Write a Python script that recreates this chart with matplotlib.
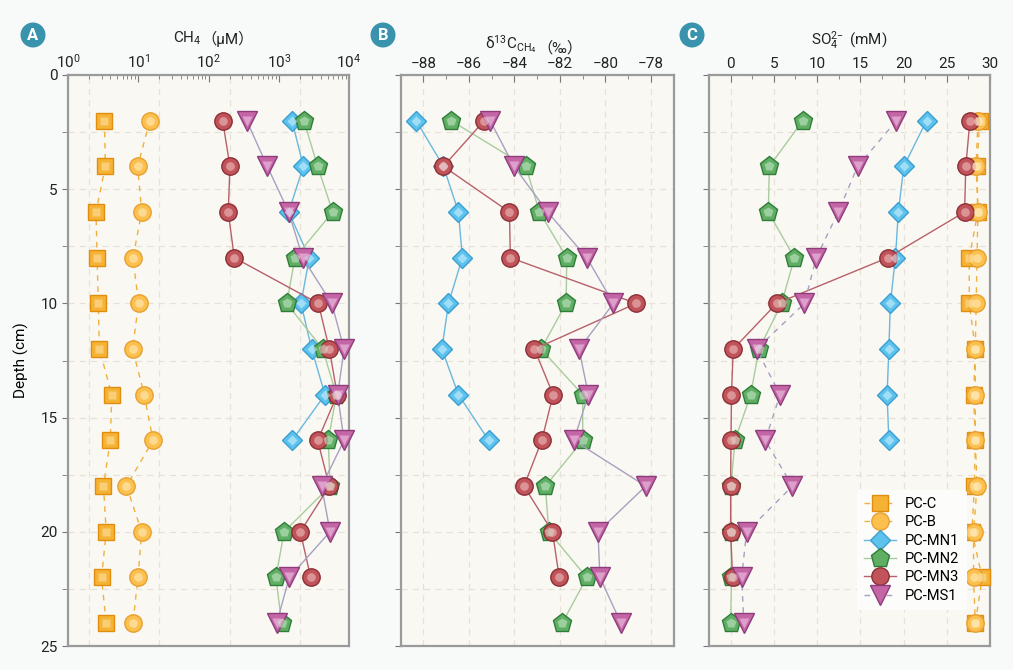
import numpy as np
import matplotlib
matplotlib.use("Agg")
import matplotlib.pyplot as plt
from matplotlib.ticker import FixedLocator, NullFormatter

plt.rcParams['font.family'] = ['Roboto', 'Noto Sans CJK SC', 'DejaVu Sans']
plt.rcParams['mathtext.fontset'] = 'custom'
plt.rcParams['mathtext.rm'] = 'Roboto'
plt.rcParams['mathtext.it'] = 'Roboto'

# depths (cm)
depth = [2, 4, 6, 8, 10, 12, 14, 16, 18, 20, 22, 24]
depth_mn1 = depth[:8]
depth_mn3 = depth[:11]

# A: CH4 (uM)
ch4_c = [3.3, 3.4, 2.5, 2.6, 2.7, 2.8, 4.2, 4.0, 3.2, 3.5, 3.0, 3.5]
ch4_b = [14.6, 9.8, 11.2, 8.4, 10.1, 8.3, 12.2, 16.2, 6.8, 11.2, 9.9, 8.4]
ch4_mn1 = [1545, 2240, 1385, 2720, 2075, 2940, 4550, 1545]
ch4_mn2 = [2280, 3580, 5860, 1700, 1300, 4220, 6600, 5070, 5370, 1190, 912, 1100]
ch4_mn3 = [159, 202, 191, 233, 3660, 5250, 6800, 3580, 5250, 2030, 2850]
ch4_ms1 = [350, 687, 1385, 2190, 5680, 8500, 6900, 8500, 4080, 5370, 1410, 935]

# B: d13C-CH4 (permil)
d13_mn1 = [-88.32, -87.12, -86.46, -86.29, -86.90, -87.19, -86.46, -85.13]
d13_mn2 = [-86.78, -83.5, -82.9, -81.7, -81.73, -82.83, -81.0, -81.0, -82.64, -82.49, -80.82, -81.9]
d13_mn3 = [-85.33, -87.12, -84.22, -84.18, -78.65, -83.12, -82.30, -82.8, -83.58, -82.33, -82.03]
d13_ms1 = [-85.07, -84.02, -82.54, -80.82, -79.65, -81.16, -80.75, -81.39, -78.23, -80.33, -80.24, -79.32]

# C: SO4 (mM)
so4_c = [28.8, 28.5, 28.6, 27.6, 27.6, 28.3, 28.1, 28.3, 28.2, 27.9, 29.1, 28.3]
so4_b = [28.6, 28.4, 28.6, 28.5, 28.4, 28.3, 28.3, 28.3, 28.5, 28.1, 28.1, 28.3]
so4_mn1 = [22.66, 20.03, 19.4, 19.06, 18.48, 18.3, 18.1, 18.3]
so4_mn2 = [8.35, 4.48, 4.36, 7.38, 5.9, 3.28, 2.32, 0.5, 0.04, 0.04, 0.1, 0.0]
so4_mn3 = [27.68, 27.2, 27.06, 18.17, 5.33, 0.3, 0.1, 0.04, 0.0, 0.0, 0.23]
so4_ms1 = [19.18, 14.69, 12.45, 9.9, 8.54, 3.0, 5.72, 4.0, 7.15, 1.85, 1.27, 1.54]

# style per series: marker, size, face, edge, highlight, line color
styles = {
    'PC-C':   dict(marker='s', ms=11, fc='#f6b233', ec='#e08e10', hl='#fde6b0', lc='#f0b040'),
    'PC-B':   dict(marker='o', ms=12.5, fc='#fbc04d', ec='#e8a030', hl='#fff0c8', lc='#f0b040'),
    'PC-MN1': dict(marker='D', ms=10.5, fc='#5ec3ec', ec='#3a9fd2', hl='#d8f3ff', lc='#6ab8de'),
    'PC-MN2': dict(marker='p', ms=14, fc='#5fae63', ec='#2f7d3a', hl='#cdebcd', lc='#a8cc9c'),
    'PC-MN3': dict(marker='o', ms=12.5, fc='#c0545a', ec='#8c2f36', hl='#f2c8c8', lc='#b8606a'),
    'PC-MS1': dict(marker='v', ms=14, fc='#c466a6', ec='#8e3c7c', hl='#f3d0ea', lc='#a8a0c0'),
}

fig_bg = '#f8f9f9'
ax_bg = '#faf8f3'
grid_c = '#e6e2da'

fig = plt.figure(figsize=(10.13, 6.70), dpi=100, facecolor=fig_bg)
W, H = 1013, 670
ax_a = fig.add_axes([68 / W, 24 / H, 281 / W, 571 / H])
ax_b = fig.add_axes([400.7 / W, 24 / H, 273 / W, 571 / H])
ax_c = fig.add_axes([709 / W, 24 / H, 281 / W, 571 / H])


def draw(ax, x, y, name, ls='-', lw=1.0):
    s = styles[name]
    ax.plot(x, y, ls=ls, lw=lw, color=s['lc'], marker=s['marker'], ms=s['ms'],
            mfc=s['fc'], mec=s['ec'], mew=1.0, zorder=3, clip_on=False, label=name)
    # soft highlight to mimic the glossy markers
    ax.plot(x, y, ls='none', marker=s['marker'], ms=s['ms'] * 0.5,
            mfc=s['hl'], mec='none', alpha=0.55, zorder=4, clip_on=False)


def style_axis(ax):
    ax.set_facecolor(ax_bg)
    ax.set_ylim(25, 0)
    ax.xaxis.tick_top()
    ax.xaxis.set_label_position('top')
    ax.yaxis.set_major_locator(FixedLocator([0, 5, 10, 15, 20, 25]))
    ax.yaxis.set_minor_locator(FixedLocator([2.5, 7.5, 12.5, 17.5, 22.5]))
    ax.tick_params(axis='x', which='both', direction='in', colors='#777777',
                   labelcolor='#222222', labelsize=11, pad=3)
    ax.tick_params(axis='x', which='major', length=5)
    ax.tick_params(axis='x', which='minor', length=3)
    ax.tick_params(axis='y', which='both', direction='out', colors='#777777',
                   labelcolor='#222222', labelsize=11, length=4)
    for sp in ax.spines.values():
        sp.set_color('#9a9a9a')
        sp.set_linewidth(1.6)
    ax.grid(True, axis='y', which='both', ls=(0, (5, 4)), color=grid_c, lw=0.9)
    ax.set_axisbelow(True)


def title(ax, math_part, plain_part, x, y):
    # mathtext part, then the CJK-punctuation part as plain text right after it
    t1 = ax.text(x, y, math_part, transform=ax.transAxes, ha='right', va='baseline',
                 fontsize=11, color='#222222')
    ax.annotate(plain_part, xy=(1, 0), xycoords=t1, xytext=(0, 0),
                textcoords='offset points', ha='left', va='bottom',
                fontsize=11, color='#222222')


# panel A
style_axis(ax_a)
ax_a.set_xscale('log')
ax_a.set_xlim(1, 1e4)
for gx in [2, 20, 200, 2000]:
    ax_a.axvline(gx, ls=(0, (5, 4)), color=grid_c, lw=0.9, zorder=0)
draw(ax_a, ch4_c, depth, 'PC-C', ls=(0, (4, 4)))
draw(ax_a, ch4_b, depth, 'PC-B', ls=(0, (4, 4)))
draw(ax_a, ch4_mn1, depth_mn1, 'PC-MN1')
draw(ax_a, ch4_mn2, depth, 'PC-MN2')
draw(ax_a, ch4_mn3, depth_mn3, 'PC-MN3')
draw(ax_a, ch4_ms1, depth, 'PC-MS1')
title(ax_a, 'CH$_4$', '（μM）', 0.475, 1 + 32 / 571)
ax_a.set_ylabel('Depth (cm)', fontsize=11, labelpad=8)

# panel B
style_axis(ax_b)
ax_b.set_xlim(-89, -77)
ax_b.xaxis.set_major_locator(FixedLocator([-88, -86, -84, -82, -80, -78]))
ax_b.xaxis.set_minor_locator(FixedLocator([-87, -85, -83, -81, -79]))
ax_b.grid(True, axis='x', which='major', ls=(0, (5, 4)), color=grid_c, lw=0.9)
ax_b.yaxis.set_major_formatter(NullFormatter())
draw(ax_b, d13_mn1, depth_mn1, 'PC-MN1')
draw(ax_b, d13_mn2, depth, 'PC-MN2')
draw(ax_b, d13_mn3, depth_mn3, 'PC-MN3')
draw(ax_b, d13_ms1, depth, 'PC-MS1')
title(ax_b, 'δ$^{13}$C$_{CH_4}$', '（‰）', 0.5, 1 + 26 / 571)

# panel C
style_axis(ax_c)
ax_c.set_xlim(-2.5, 30)
ax_c.xaxis.set_major_locator(FixedLocator([0, 5, 10, 15, 20, 25, 30]))
ax_c.xaxis.set_minor_locator(FixedLocator([2.5, 7.5, 12.5, 17.5, 22.5, 27.5]))
ax_c.grid(True, axis='x', which='major', ls=(0, (5, 4)), color=grid_c, lw=0.9)
ax_c.yaxis.set_major_formatter(NullFormatter())
draw(ax_c, so4_c, depth, 'PC-C', ls=(0, (4, 4)))
draw(ax_c, so4_b, depth, 'PC-B', ls=(0, (4, 4)))
draw(ax_c, so4_mn1, depth_mn1, 'PC-MN1')
draw(ax_c, so4_mn2, depth, 'PC-MN2')
draw(ax_c, so4_mn3, depth_mn3, 'PC-MN3')
draw(ax_c, so4_ms1, depth, 'PC-MS1', ls=(0, (4, 4)))
ax_c.text(0.5, 1 + 30 / 571, 'SO$_4^{2\\!-}$ (mM)', transform=ax_c.transAxes,
          ha='center', va='baseline', fontsize=11, color='#222222')

handles, names = ax_c.get_legend_handles_labels()
leg = ax_c.legend(handles, names, loc='lower left', bbox_to_anchor=(0.5, 0.05), fontsize=10.5,
                  frameon=True, facecolor='#fcfcfa', edgecolor='none', framealpha=1,
                  handlelength=2.2, handletextpad=0.6, labelspacing=0.3, borderpad=0.5)
leg.set_zorder(5)

# panel letters
for lx, letter in [(33, 'A'), (383, 'B'), (692, 'C')]:
    fig.text(lx / W, 1 - 35 / H, letter, ha='center', va='center', color='white',
             fontsize=12, fontweight='bold',
             bbox=dict(boxstyle='circle,pad=0.3', fc='#3a93ad', ec='none'))

fig.savefig('out.png', dpi=100, facecolor=fig_bg)
